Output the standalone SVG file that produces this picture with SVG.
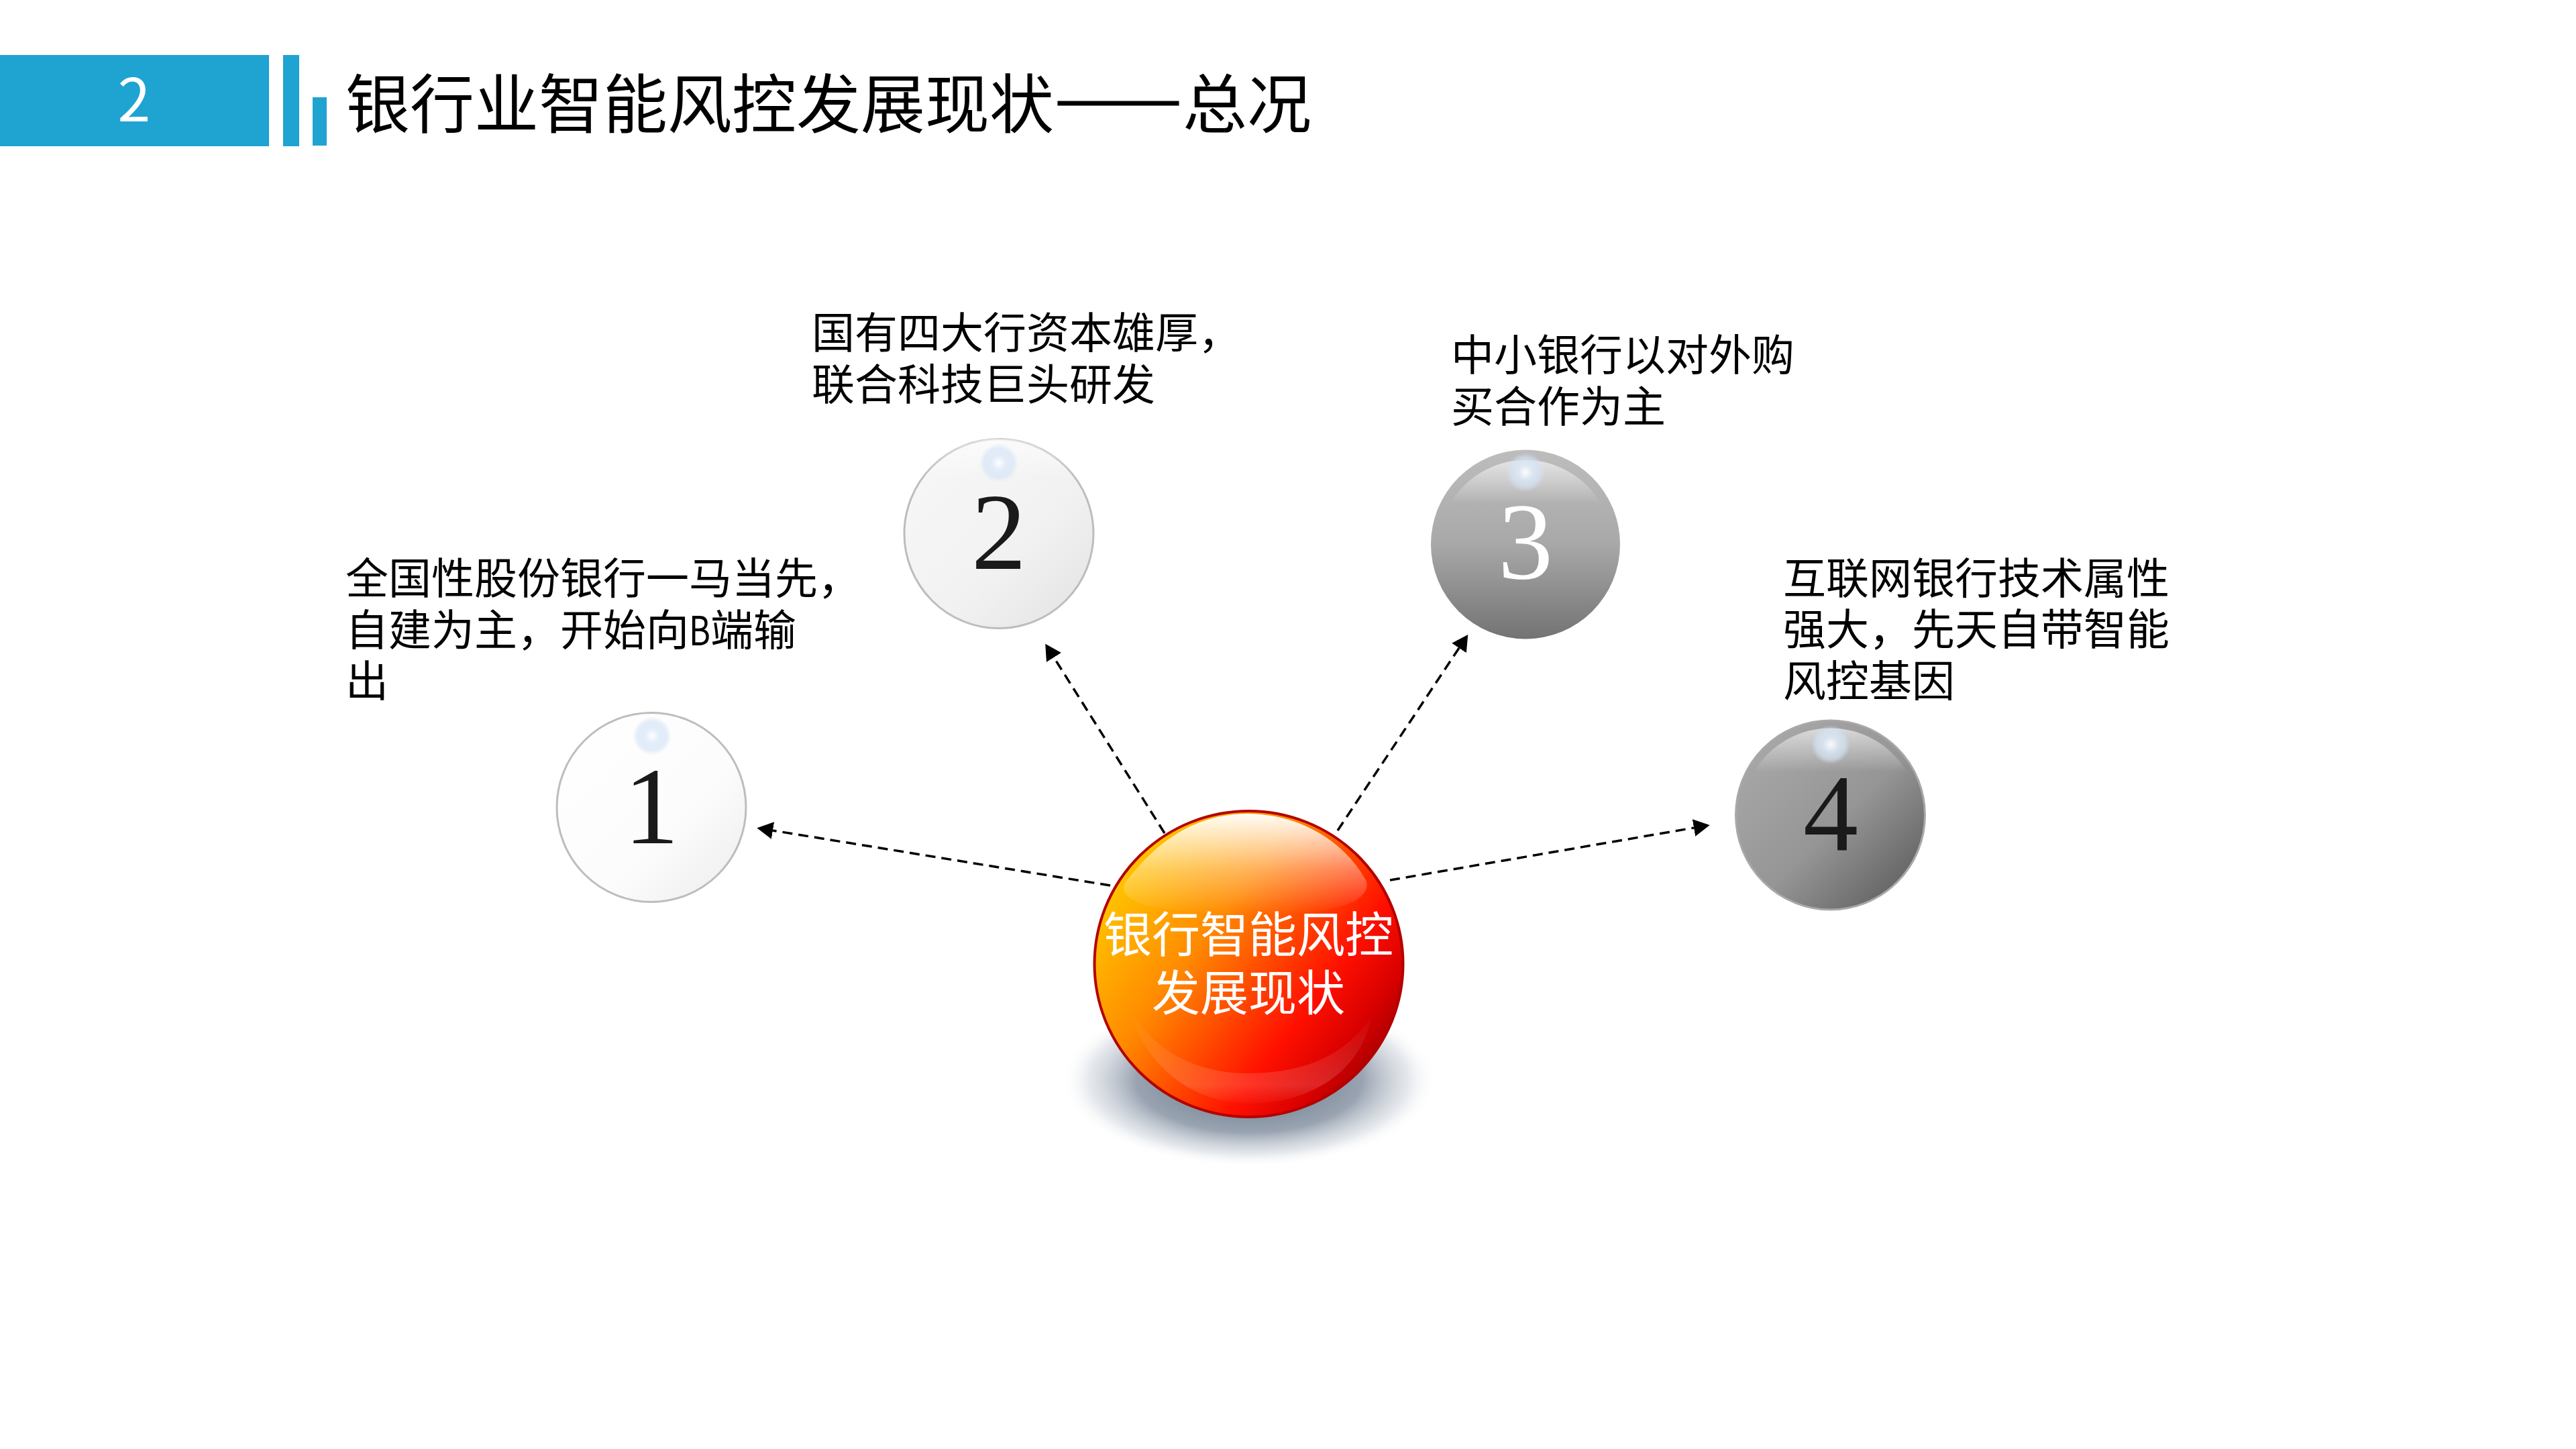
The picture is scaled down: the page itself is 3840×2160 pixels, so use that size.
<svg xmlns="http://www.w3.org/2000/svg" xml:lang="zh-CN" lang="zh-CN" width="3840" height="2160" viewBox="0 0 3840 2160">
<style>
.cjk{font-family:"Noto Sans CJK SC","Noto Sans",sans-serif}
.label{font-size:64px;fill:#000}
.num{font-family:"Liberation Serif",serif;font-size:164px;text-anchor:middle}
.conn{stroke:#000;stroke-width:3.5;stroke-dasharray:15 9;fill:none;marker-end:url(#arrow)}
</style>
<defs>
<marker id="arrow" markerUnits="userSpaceOnUse" markerWidth="30" markerHeight="30" refX="0" refY="13" orient="auto"><path d="M0,0L24,13L0,26Z" fill="#000"/></marker>
<radialGradient id="glow"><stop offset="0" stop-color="#fff" stop-opacity=".95"/><stop offset=".4" stop-color="#dbe9f7" stop-opacity=".8"/><stop offset=".75" stop-color="#d3e4f6" stop-opacity=".65"/><stop offset="1" stop-color="#d3e4f6" stop-opacity="0"/></radialGradient>
<linearGradient id="g1" x1="0" y1="0" x2="1" y2="1"><stop offset="0" stop-color="#fff"/><stop offset=".6" stop-color="#fcfcfc"/><stop offset="1" stop-color="#ececec"/></linearGradient>
<linearGradient id="g2" x1="0" y1="0" x2="1" y2="1"><stop offset="0" stop-color="#f8f8f8"/><stop offset=".6" stop-color="#f1f1f1"/><stop offset="1" stop-color="#e2e2e2"/></linearGradient>
<linearGradient id="g3" x1="0" y1="0" x2="0" y2="1"><stop offset="0" stop-color="#bdbdbd"/><stop offset=".5" stop-color="#a8a8a8"/><stop offset="1" stop-color="#737373"/></linearGradient>
<linearGradient id="g4" x1=".1" y1=".1" x2=".9" y2=".9"><stop offset="0" stop-color="#a8a8a8"/><stop offset=".55" stop-color="#959595"/><stop offset="1" stop-color="#626262"/></linearGradient>
<linearGradient id="gloss" x1="0" y1="0" x2="0" y2="1"><stop offset="0" stop-color="#fff" stop-opacity=".6"/><stop offset="1" stop-color="#fff" stop-opacity="0"/></linearGradient>
<linearGradient id="ball" x1=".03" y1=".2" x2=".92" y2=".85"><stop offset="0" stop-color="#ffcc00"/><stop offset=".35" stop-color="#ff8a00"/><stop offset=".72" stop-color="#ff1000"/><stop offset=".88" stop-color="#d80000"/><stop offset="1" stop-color="#a00000"/></linearGradient>
<linearGradient id="topgloss" x1="0" y1="0" x2="0" y2="1"><stop offset="0" stop-color="#fff" stop-opacity=".97"/><stop offset=".55" stop-color="#fff" stop-opacity=".35"/><stop offset="1" stop-color="#fff" stop-opacity="0"/></linearGradient>
<linearGradient id="lowgloss" x1="0" y1="0" x2="0" y2="1"><stop offset="0" stop-color="#fff" stop-opacity="0"/><stop offset=".8" stop-color="#fff" stop-opacity=".15"/><stop offset="1" stop-color="#fff" stop-opacity=".03"/></linearGradient>
<radialGradient id="shadow"><stop offset="0" stop-color="#5d6c80"/><stop offset=".6" stop-color="#7f8c9d" stop-opacity=".8"/><stop offset=".85" stop-color="#c5ccd5" stop-opacity=".45"/><stop offset="1" stop-color="#fff" stop-opacity="0"/></radialGradient>
</defs>
<rect width="3840" height="2160" fill="#fff"/>
<g id="header">
<rect x="0" y="82" width="401" height="136" fill="#1fa3d1"/>
<rect x="422" y="82" width="24" height="136" fill="#1fa3d1"/>
<rect x="466" y="145" width="21" height="72" fill="#1fa3d1"/>
<text class="cjk" x="200" y="181" font-size="88" fill="#fff" text-anchor="middle">2</text>
<text class="cjk" x="515" y="190" font-size="96" fill="#000">银行业智能风控发展现状<tspan stroke="#000" stroke-width="3">——</tspan>总况</text>
</g>
<g id="connectors">
<line class="conn" x1="1655" y1="1320" x2="1152" y2="1238"/>
<line class="conn" x1="1736" y1="1242" x2="1571" y2="980"/>
<line class="conn" x1="1994" y1="1238" x2="2175" y2="966"/>
<line class="conn" x1="2072" y1="1312" x2="2525" y2="1234"/>
</g>
<g id="node-center">
<ellipse cx="1862" cy="1610" rx="280" ry="130" fill="url(#shadow)"/>
<ellipse cx="1861.5" cy="1437" rx="230" ry="228" fill="url(#ball)" stroke="#b30000" stroke-width="4"/>
<path d="M1677,1316C1730,1246 1790,1213 1860,1213C1930,1213 2000,1248 2036,1312C2045,1334 2015,1354 1950,1360C1880,1366 1800,1364 1730,1354C1690,1348 1668,1334 1677,1316Z" fill="url(#topgloss)"/>
<path d="M1686,1505C1720,1570 1790,1600 1860,1600C1940,1600 2010,1575 2046,1510C2030,1600 1950,1645 1862,1645C1780,1645 1705,1590 1686,1505Z" fill="url(#lowgloss)"/>
<text class="cjk" x="1861" y="1419" font-size="72" fill="#fff" text-anchor="middle">银行智能风控</text>
<text class="cjk" x="1861" y="1506" font-size="72" fill="#fff" text-anchor="middle">发展现状</text>
</g>
<g id="node-1">
<circle cx="971" cy="1203.5" r="141" fill="url(#g1)" stroke="#bdbdbd" stroke-width="3"/>
<circle cx="972" cy="1097" r="29" fill="url(#glow)"/>
<text class="num" x="971" y="1257" fill="#1a1a1a">1</text>
</g>
<g id="node-2">
<circle cx="1489" cy="795.5" r="141" fill="url(#g2)" stroke="#bdbdbd" stroke-width="3"/>
<path d="M1372,716A141,141 0 0 1 1606,716Q1489,692 1372,716Z" fill="url(#gloss)"/>
<circle cx="1489" cy="690" r="29" fill="url(#glow)"/>
<text class="num" x="1489" y="848" fill="#1a1a1a">2</text>
</g>
<g id="node-3">
<circle cx="2274" cy="811.5" r="141" fill="url(#g3)"/>
<path d="M2162,750A130,130 0 0 1 2386,750Q2274,752 2162,750Z" fill="url(#gloss)"/>
<circle cx="2274" cy="704" r="29" fill="url(#glow)"/>
<text class="num" x="2274" y="862" fill="#fff">3</text>
</g>
<g id="node-4">
<circle cx="2728.5" cy="1215" r="141" fill="url(#g4)" stroke="#a8a8a8" stroke-width="3"/>
<path d="M2615,1150A132,132 0 0 1 2842,1150Q2728,1152 2615,1150Z" fill="url(#gloss)"/>
<circle cx="2729" cy="1110" r="29" fill="url(#glow)"/>
<text class="num" x="2729" y="1268" fill="#1a1a1a">4</text>
</g>
<g id="label-1" class="cjk label"><text x="515" y="885">全国性股份银行一马当先，</text><text x="515" y="962">自建为主，开始向<tspan font-size="60" textLength="32" lengthAdjust="spacingAndGlyphs">B</tspan>端输</text><text x="515" y="1038">出</text></g>
<g id="label-2" class="cjk label"><text x="1210" y="519">国有四大行资本雄厚，</text><text x="1210" y="596">联合科技巨头研发</text></g>
<g id="label-3" class="cjk label"><text x="2163" y="552">中小银行以对外购</text><text x="2163" y="629">买合作为主</text></g>
<g id="label-4" class="cjk label"><text x="2658" y="885">互联网银行技术属性</text><text x="2658" y="961">强大，先天自带智能</text><text x="2658" y="1038">风控基因</text></g>
</svg>
